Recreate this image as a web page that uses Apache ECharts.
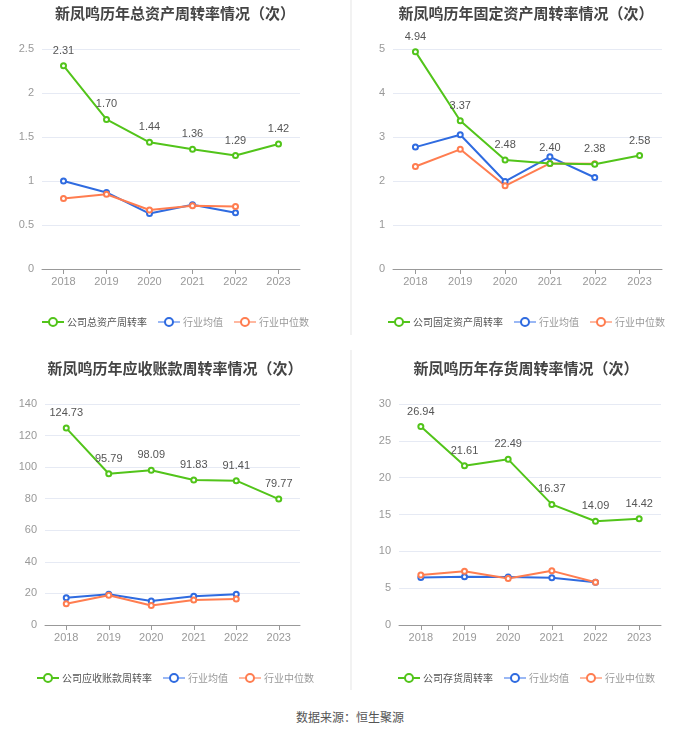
<!DOCTYPE html>
<html>
<head>
<meta charset="utf-8">
<script src="https://cdn.jsdelivr.net/npm/echarts@6/dist/echarts.min.js"></script>
<style>
  html, body { margin: 0; padding: 0; background: #fff; }
  #wrap { position: relative; width: 700px; height: 734px; font-family: "Noto Sans CJK SC", sans-serif; }
  .panel { position: absolute; width: 350px; height: 345px; }
  #c1 { left: 0; top: 0; }
  #c2 { left: 350px; top: 0; border-left: 2px solid #f2f2f2; width: 348px; height: 335px; }
  #c3 { left: 0; top: 350px; }
  #c4 { left: 350px; top: 350px; border-left: 2px solid #f2f2f2; width: 348px; height: 340px; }
  #src { position: absolute; left: 0; width: 700px; top: 708px; text-align: center; font-size: 12px; color: #555; }
</style>
</head>
<body>
<div id="wrap">
  <div class="panel" id="c1"></div>
  <div class="panel" id="c2"></div>
  <div class="panel" id="c3"></div>
  <div class="panel" id="c4"></div>
  <div id="src">数据来源：恒生聚源</div>
</div>
<script>
// 年份
var years = ['2018', '2019', '2020', '2021', '2022', '2023'];

// 总资产周转率
var totalCompany = [2.31, 1.70, 1.44, 1.36, 1.29, 1.42];
var totalAvg = [1.00, 0.87, 0.63, 0.73, 0.64];
var totalMedian = [0.80, 0.85, 0.67, 0.72, 0.71];

// 固定资产周转率
var fixedCompany = [4.94, 3.37, 2.48, 2.40, 2.38, 2.58];
var fixedAvg = [2.77, 3.05, 1.99, 2.55, 2.08];
var fixedMedian = [2.33, 2.72, 1.89, 2.40, 2.39];

// 应收账款周转率
var recvCompany = [124.73, 95.79, 98.09, 91.83, 91.41, 79.77];
var recvAvg = [17.3, 19.5, 15.2, 18.2, 19.5];
var recvMedian = [13.5, 18.8, 12.3, 15.9, 16.5];

// 存货周转率
var stockCompany = [26.94, 21.61, 22.49, 16.37, 14.09, 14.42];
var stockAvg = [6.45, 6.55, 6.5, 6.4, 5.8];
var stockMedian = [6.8, 7.3, 6.3, 7.35, 5.8];

var GREEN = '#52c41a';
var BLUE = '#2f6be0';
var ORANGE = '#ff7d50';

function makeOption(cfg) {
    var companyName = cfg.name;
    return {
        animation: false,
        title: {
            text: cfg.title,
            left: 'center',
            top: cfg.titleTop,
            textStyle: { fontSize: 15, fontWeight: 'bold', color: '#444', fontFamily: 'Noto Sans CJK SC' }
        },
        legend: {
            bottom: cfg.legendBottom,
            left: 'center',
            itemWidth: 22,
            itemHeight: 10,
            itemGap: 10,
            textStyle: { fontSize: 10, color: '#999', fontFamily: 'Noto Sans CJK SC', padding: [0, 0, 0, -2] },
            data: [
                { name: companyName, textStyle: { color: '#555' } },
                { name: '行业均值', itemStyle: { borderColor: '#9ab8f5' }, lineStyle: { color: '#9ab8f5' } },
                { name: '行业中位数', itemStyle: { borderColor: '#ffb8a0' }, lineStyle: { color: '#ffb8a0' } }
            ]
        },
        grid: cfg.grid,
        xAxis: {
            type: 'category',
            data: years,
            axisLine: { lineStyle: { color: '#999' } },
            axisTick: { show: true, alignWithLabel: true, lineStyle: { color: '#999' } },
            axisLabel: { color: '#999', fontSize: 11, margin: 7 }
        },
        yAxis: {
            type: 'value',
            min: 0,
            max: cfg.max,
            interval: cfg.interval,
            axisLine: { show: false },
            axisTick: { show: false },
            axisLabel: { color: '#999', fontSize: 11 },
            splitLine: { lineStyle: { color: '#e6eaf4' } }
        },
        series: [
            {
                name: companyName,
                type: 'line',
                data: cfg.company,
                symbol: 'emptyCircle',
                symbolSize: 5,
                itemStyle: { color: GREEN },
                lineStyle: { width: 2, color: GREEN },
                label: {
                    show: true,
                    position: 'top',
                    distance: 6,
                    color: '#555',
                    fontSize: 11,
                    formatter: function (p) { return p.value.toFixed(2); }
                },
                z: 3
            },
            {
                name: '行业均值',
                type: 'line',
                data: cfg.avg,
                symbol: 'emptyCircle',
                symbolSize: 5,
                itemStyle: { color: BLUE },
                lineStyle: { width: 2, color: BLUE },
                z: 2
            },
            {
                name: '行业中位数',
                type: 'line',
                data: cfg.median,
                symbol: 'emptyCircle',
                symbolSize: 5,
                itemStyle: { color: ORANGE },
                lineStyle: { width: 2, color: ORANGE },
                z: 2
            }
        ]
    };
}

var configs = [
    {
        id: 'c1', title: '新凤鸣历年总资产周转率情况（次）', name: '公司总资产周转率',
        company: totalCompany, avg: totalAvg, median: totalMedian, max: 2.5, interval: 0.5,
        titleTop: 1, legendBottom: 13,
        grid: { left: 42, right: 50, top: 49, bottom: 76 }
    },
    {
        id: 'c2', title: '新凤鸣历年固定资产周转率情况（次）', name: '公司固定资产周转率',
        company: fixedCompany, avg: fixedAvg, median: fixedMedian, max: 5, interval: 1,
        titleTop: 1, legendBottom: 3,
        grid: { left: 41, right: 38, top: 49, bottom: 66 }
    },
    {
        id: 'c3', title: '新凤鸣历年应收账款周转率情况（次）', name: '公司应收账款周转率',
        company: recvCompany, avg: recvAvg, median: recvMedian, max: 140, interval: 20,
        titleTop: 6, legendBottom: 7,
        grid: { left: 45, right: 50, top: 54, bottom: 70 }
    },
    {
        id: 'c4', title: '新凤鸣历年存货周转率情况（次）', name: '公司存货周转率',
        company: stockCompany, avg: stockAvg, median: stockMedian, max: 30, interval: 5,
        titleTop: 6, legendBottom: 2,
        grid: { left: 47, right: 39, top: 54, bottom: 65 }
    }
];

configs.forEach(function (cfg) {
    var chart = echarts.init(document.getElementById(cfg.id));
    chart.setOption(makeOption(cfg));
});
</script>
</body>
</html>
